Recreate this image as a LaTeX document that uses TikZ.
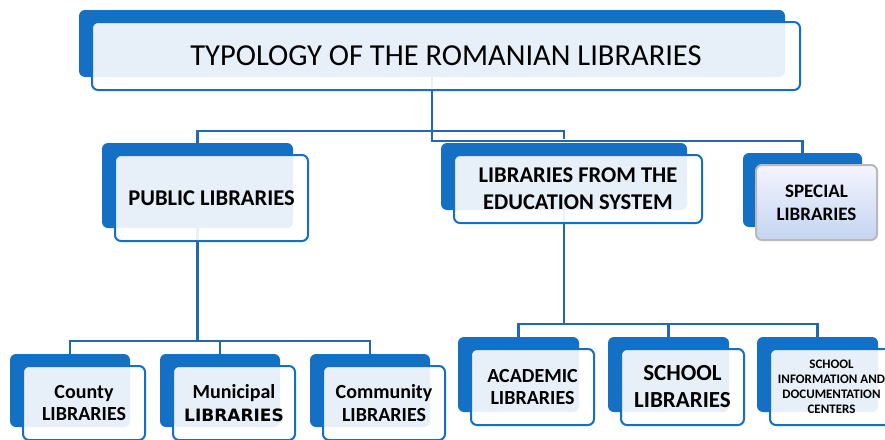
\documentclass[tikz,border=0pt]{standalone}
\usepackage{fontspec}
\setmainfont{Carlito}
\newfontfamily\heavyfont{DejaVu Sans}
\usetikzlibrary{positioning,calc,backgrounds}
\definecolor{cardblue}{HTML}{1370C4}
\definecolor{linkblue}{HTML}{2167B2}

\begin{document}
\begin{tikzpicture}[x=1pt,y=-1pt,
    card/.style={draw=cardblue, line width=2pt, fill=white, fill opacity=.9,
      text opacity=1, rounded corners=6pt, align=center, inner sep=0pt, font=\bfseries},
    specialcard/.style={card, draw=gray!55, top color=blue!4!white, bottom color={rgb,255:red,196;green,212;blue,240},
      fill opacity=1},
    back/.style={fill=cardblue, rounded corners=6pt},
    link/.style={draw=linkblue, line width=2.2pt},
    mid/.style={font=\bfseries\fontsize{22.5}{27}\selectfont},
    low/.style={font=\bfseries\fontsize{20}{22.5}\selectfont}
  ]
  \useasboundingbox (0,0) rectangle (885,439);
  % top level
  \node [card, minimum width=708, minimum height=68,
    font=\mdseries\fontsize{30.5}{36}\selectfont] (title) at (446,56)
    {TYPOLOGY OF THE ROMANIAN LIBRARIES};
  % second level
  \node [card, mid, minimum width=193, minimum height=86] (public) at (211.5,198)
    {PUBLIC LIBRARIES};
  \node [card, mid, minimum width=248, minimum height=68] (edu) at (578,189)
    {LIBRARIES FROM THE\\EDUCATION SYSTEM};
  \node [specialcard, minimum width=121, minimum height=75,
    font=\bfseries\fontsize{19}{23}\selectfont] (special) at (816.5,202.5)
    {SPECIAL\\LIBRARIES};
  % public libraries
  \node [card, low, minimum width=122, minimum height=74] (county) at (84,403)
    {County\\LIBRARIES};
  \node [card, low, minimum width=122, minimum height=74] (municipal) at (234,403)
    {Municipal\\{\heavyfont\fontsize{17}{22}\selectfont LIBRARIES}};
  \node [card, low, minimum width=122, minimum height=74] (community) at (384,403)
    {Community\\LIBRARIES};
  % education system
  \node [card, low, minimum width=123, minimum height=76] (academic) at (532.5,387)
    {ACADEMIC\\LIBRARIES};
  \node [card, minimum width=123, minimum height=76,
    font=\bfseries\fontsize{23}{27}\selectfont] (school) at (682.5,387)
    {SCHOOL\\LIBRARIES};
  \node [card, minimum width=123, minimum height=76,
    font=\bfseries\fontsize{13}{15}\selectfont] (sidc) at (831.5,387)
    {SCHOOL\\INFORMATION AND\\DOCUMENTATION\\CENTERS};

  \begin{scope}[on background layer]
    \foreach \n in {title,public,edu,special,county,municipal,community,academic,school,sidc}{
      \fill [back] ($(\n.north west)+(-12,-11)$) rectangle ($(\n.south east)+(-16,-14)$);
      \coordinate (\n-top) at ($(\n.north)+(-14,-11)$);
      \coordinate (\n-bot) at ($(\n.south)+(-14,-14)$);
    }
    \draw [link] (title-bot) -- ++(0,64) -| (special-top);
    \draw [link] (public-top) -- ++(0,-12) -| ($(edu-top)+(0,-4)$);
    % public branch
    \draw [link] (public-bot) -- ($(public-bot |- county-top)+(0,-13)$);
    \draw [link] (county-top) -- ++(0,-13) -| (community-top);
    \draw [link] (municipal-top) -- ++(0,-13);
    % education branch
    \draw [link] (edu-bot) -- ($(edu-bot |- academic-top)+(0,-13)$);
    \draw [link] (academic-top) -- ++(0,-13) -| (sidc-top);
    \draw [link] (school-top) -- ++(0,-13);
  \end{scope}
\end{tikzpicture}
\end{document}
